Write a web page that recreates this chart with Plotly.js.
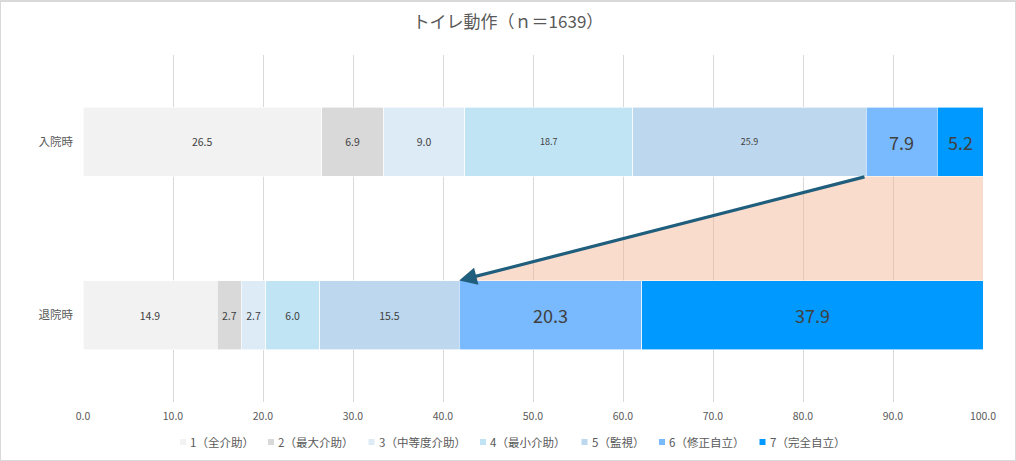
<!DOCTYPE html>
<html>
<head>
<meta charset="utf-8">
<script src="https://cdn.plot.ly/plotly-3.0.1.min.js"></script>
<style>
html,body{margin:0;padding:0;background:#fff;}
#wrap{position:relative;width:1016px;height:461px;}
#chart{width:1016px;height:461px;}
#frame{position:absolute;left:0;top:0;width:1016px;height:461px;box-sizing:border-box;border:1px solid #d9d9d9;border-top:2px solid #d9d9d9;pointer-events:none;}
</style>
</head>
<body>
<div id="wrap"><div id="chart"></div><div id="frame"></div></div>
<script>
// ---- data ----
const categories = ['入院時', '退院時'];
const levelNames = ['1（全介助）', '2（最大介助）', '3（中等度介助）', '4（最小介助）', '5（監視）', '6（修正自立）', '7（完全自立）'];
const admission = [26.5, 6.9, 9.0, 18.7, 25.9, 7.9, 5.2];
const discharge = [14.9, 2.7, 2.7, 6.0, 15.5, 20.3, 37.9];
const xTicks = [0, 10, 20, 30, 40, 50, 60, 70, 80, 90, 100];
const chartTitle = 'トイレ動作（ｎ＝1639）';

// ---- style ----
const colors = ['#F2F2F2', '#D9D9D9', '#DDEBF7', '#C0E4F4', '#BDD7EE', '#79BAFE', '#0099FF'];
const fontSizes = [[10.5, 10.5], [10.5, 10.5], [10.5, 10.5], [9, 10.5], [9, 10.5], [18, 18], [18, 18]];
const FONT = '"Noto Sans CJK JP", "Noto Sans", sans-serif';
const BAR_WIDTH = 0.4;
const W = 1016, H = 461;
const M = {l: 83, r: 33, t: 55, b: 59};
const plotW = W - M.l - M.r, plotH = H - M.t - M.b;
// legend marker centres (px) and vertical centre
const legendPx = [183, 271, 371.5, 483, 584.5, 662, 762.5];
const legendPy = 442;
const pxToPaperX = px => (px - M.l) / plotW;
const pyToPaperY = py => (H - M.b - py) / plotH;

const yPos = categories.map((c, i) => i);

const traces = levelNames.map((name, k) => ({
  type: 'bar',
  orientation: 'h',
  name: name,
  x: [admission[k], discharge[k]],
  y: yPos,
  width: BAR_WIDTH,
  marker: {color: colors[k], line: {color: '#ffffff', width: 0.6}},
  text: [admission[k], discharge[k]].map(v => v.toFixed(1)),
  texttemplate: '%{text}',
  textposition: 'inside',
  insidetextanchor: 'middle',
  textangle: 0,
  constraintext: 'none',
  textfont: {family: FONT, color: '#404040', size: fontSizes[k]},
  hoverinfo: 'skip',
  showlegend: false
}));

// cumulative end of level 5 for both categories
const sum5 = arr => arr.slice(0, 5).reduce((a, b) => a + b, 0);
const admEnd5 = sum5(admission);
const disEnd5 = sum5(discharge);
const half = BAR_WIDTH / 2;
const total = xTicks[xTicks.length - 1];

traces.push({
  type: 'scatter',
  mode: 'lines',
  x: [admEnd5, total, total, disEnd5, admEnd5],
  y: [yPos[0] + half, yPos[0] + half, yPos[1] - half, yPos[1] - half, yPos[0] + half],
  fill: 'toself',
  fillcolor: 'rgba(244,177,145,0.45)',
  line: {width: 0, color: 'rgba(0,0,0,0)'},
  showlegend: false,
  hoverinfo: 'skip'
});

// manual legend
const shapes = [];
const annotations = [];
const sq = 3; // half size of legend square (px)
levelNames.forEach((name, k) => {
  const cx = legendPx[k];
  shapes.push({
    type: 'rect', xref: 'paper', yref: 'paper',
    x0: pxToPaperX(cx - sq), x1: pxToPaperX(cx + sq),
    y0: pyToPaperY(legendPy + sq), y1: pyToPaperY(legendPy - sq),
    fillcolor: colors[k], line: {width: 0}
  });
  annotations.push({
    xref: 'paper', yref: 'paper',
    x: pxToPaperX(cx + sq + 2), y: pyToPaperY(legendPy),
    xanchor: 'left', yanchor: 'middle',
    text: name, showarrow: false,
    font: {family: FONT, size: 11.5, color: '#595959'}
  });
});

annotations.push({
  x: disEnd5, y: yPos[1] - half,
  ax: admEnd5, ay: yPos[0] + half,
  xref: 'x', yref: 'y', axref: 'x', ayref: 'y',
  showarrow: true,
  arrowhead: 2,
  arrowsize: 1.1,
  arrowwidth: 3.2,
  arrowcolor: '#1F5E7C',
  text: ''
});

const layout = {
  width: W,
  height: H,
  margin: M,
  paper_bgcolor: '#ffffff',
  plot_bgcolor: '#ffffff',
  barmode: 'stack',
  showlegend: false,
  font: {family: FONT, color: '#595959'},
  title: {
    text: chartTitle,
    font: {family: FONT, size: 17, color: '#595959'},
    x: 0.5, xref: 'container', xanchor: 'center',
    y: 1 - 22 / H, yref: 'container', yanchor: 'middle'
  },
  xaxis: {
    range: [0, total],
    tickvals: xTicks,
    ticktext: xTicks.map(v => v.toFixed(1)),
    showgrid: true,
    gridcolor: '#D9D9D9',
    gridwidth: 1,
    zeroline: false,
    showline: false,
    ticks: '',
    ticklabelstandoff: 6,
    tickfont: {family: FONT, size: 10.5, color: '#595959'},
    fixedrange: true
  },
  yaxis: {
    range: [yPos[1] + 0.5, yPos[0] - 0.5],
    tickvals: yPos,
    ticktext: categories,
    showgrid: false,
    zeroline: false,
    showline: false,
    ticks: '',
    ticklabelstandoff: 9,
    tickfont: {family: FONT, size: 11.5, color: '#595959'},
    fixedrange: true
  },
  shapes: shapes,
  annotations: annotations
};

Plotly.newPlot('chart', traces, layout, {displayModeBar: false, staticPlot: true});
</script>
</body>
</html>
